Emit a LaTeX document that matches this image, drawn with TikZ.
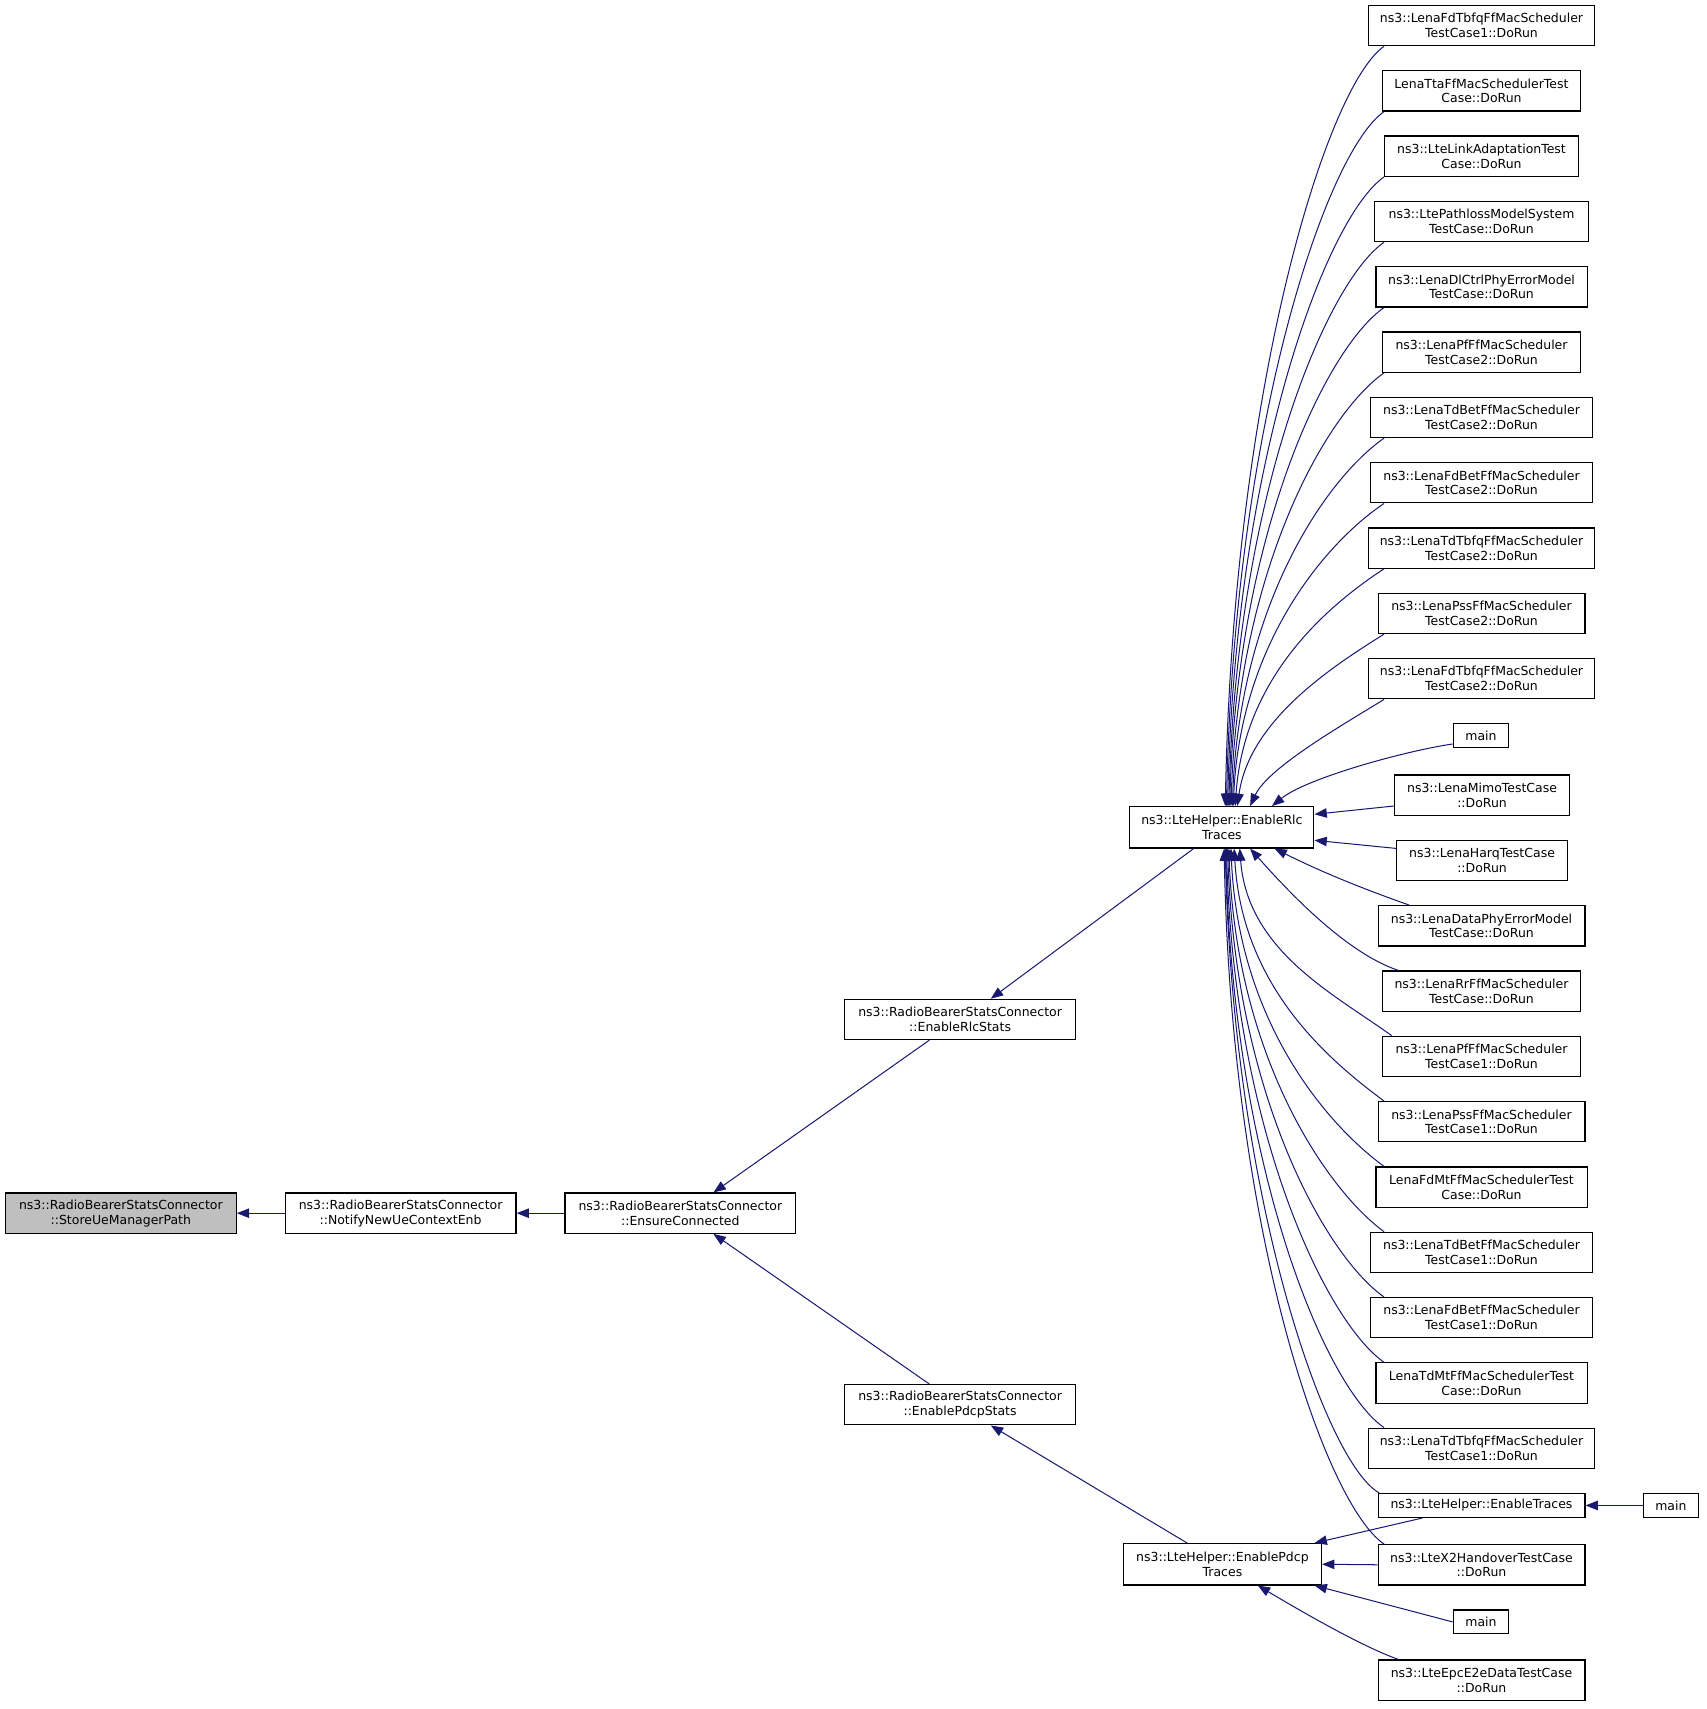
\documentclass[tikz,border=0pt]{standalone}
\usepackage{fontspec}
\setmainfont{DejaVu Sans}
\usetikzlibrary{arrows.meta}
\definecolor{edgeblue}{HTML}{191970}
\definecolor{rootgray}{HTML}{BFBFBF}

\begin{document}
\begin{tikzpicture}[
    x=0.75pt, y=-0.75pt,
    func/.style={rectangle, draw=black, fill=white, line width=0.8pt, align=center,
        font=\fontsize{8.6}{10.2}\selectfont, inner sep=1pt,
        minimum width=#1*0.75pt, minimum height=27.75pt},
    func1/.style={func=#1, minimum height=16.5pt},
    root/.style={func=#1, fill=rootgray},
    call/.style={draw=edgeblue, line width=0.7pt, >={Triangle[length=8.5pt,width=6.5pt]}, <-},
]
\useasboundingbox (0,0) rectangle (1568,1570);

% call chain on the left
\node[root=212] (store) at (111,1114.5) {ns3::RadioBearerStatsConnector\\::StoreUeManagerPath};
\node[func=212] (notify) at (368,1114.5) {ns3::RadioBearerStatsConnector\\::NotifyNewUeContextEnb};
\node[func=212] (ensure) at (625,1114.5) {ns3::RadioBearerStatsConnector\\::EnsureConnected};
\node[func=212] (rlcstats) at (882,936.5) {ns3::RadioBearerStatsConnector\\::EnableRlcStats};
\node[func=212] (pdcpstats) at (882,1290.5) {ns3::RadioBearerStatsConnector\\::EnablePdcpStats};
\node[func=169, minimum height=28.5pt] (rlct) at (1122.5,760) {ns3::LteHelper::EnableRlc\\Traces};
\node[func=182, minimum height=28.5pt] (pdcpt) at (1123,1437) {ns3::LteHelper::EnablePdcp\\Traces};

% callers of EnableRlcTraces
\node[func=208] (n1) at (1361,23.5) {ns3::LenaFdTbfqFfMacScheduler\\TestCase1::DoRun};
\node[func=182] (n2) at (1361,83.5) {LenaTtaFfMacSchedulerTest\\Case::DoRun};
\node[func=178] (n3) at (1361,143.5) {ns3::LteLinkAdaptationTest\\Case::DoRun};
\node[func=196] (n4) at (1361,203.5) {ns3::LtePathlossModelSystem\\TestCase::DoRun};
\node[func=194] (n5) at (1361,263.5) {ns3::LenaDlCtrlPhyErrorModel\\TestCase::DoRun};
\node[func=182] (n6) at (1361,323.5) {ns3::LenaPfFfMacScheduler\\TestCase2::DoRun};
\node[func=204] (n7) at (1361,383.5) {ns3::LenaTdBetFfMacScheduler\\TestCase2::DoRun};
\node[func=204] (n8) at (1361,443.5) {ns3::LenaFdBetFfMacScheduler\\TestCase2::DoRun};
\node[func=208] (n9) at (1361,503.5) {ns3::LenaTdTbfqFfMacScheduler\\TestCase2::DoRun};
\node[func=190] (n10) at (1361,563.5) {ns3::LenaPssFfMacScheduler\\TestCase2::DoRun};
\node[func=208] (n11) at (1361,623.5) {ns3::LenaFdTbfqFfMacScheduler\\TestCase2::DoRun};
\node[func1=51] (n12) at (1360.5,676) {main};
\node[func=161] (n13) at (1361.5,730.5) {ns3::LenaMimoTestCase\\::DoRun};
\node[func=157] (n14) at (1361.5,790.5) {ns3::LenaHarqTestCase\\::DoRun};
\node[func=190] (n15) at (1361,850.5) {ns3::LenaDataPhyErrorModel\\TestCase::DoRun};
\node[func=182] (n16) at (1361,910.5) {ns3::LenaRrFfMacScheduler\\TestCase::DoRun};
\node[func=182] (n17) at (1361,970.5) {ns3::LenaPfFfMacScheduler\\TestCase1::DoRun};
\node[func=190] (n18) at (1361,1030.5) {ns3::LenaPssFfMacScheduler\\TestCase1::DoRun};
\node[func=194] (n19) at (1361,1090.5) {LenaFdMtFfMacSchedulerTest\\Case::DoRun};
\node[func=204] (n20) at (1361,1150.5) {ns3::LenaTdBetFfMacScheduler\\TestCase1::DoRun};
\node[func=204] (n21) at (1361,1210.5) {ns3::LenaFdBetFfMacScheduler\\TestCase1::DoRun};
\node[func=194] (n22) at (1361,1270.5) {LenaTdMtFfMacSchedulerTest\\Case::DoRun};
\node[func=208] (n23) at (1361,1330.5) {ns3::LenaTdTbfqFfMacScheduler\\TestCase1::DoRun};
\node[func1=190] (entraces) at (1361,1383) {ns3::LteHelper::EnableTraces};
\node[func1=50] (mainb) at (1535,1383) {main};
\node[func=190] (x2) at (1361,1437.5) {ns3::LteX2HandoverTestCase\\::DoRun};
\node[func1=51] (mainc) at (1360.5,1490) {main};
\node[func=190] (epc) at (1361,1543.5) {ns3::LteEpcE2eDataTestCase\\::DoRun};

% left chain edges
\draw[call] (store.east) -- (notify.west);
\draw[call] (notify.east) -- (ensure.west);
\draw[call] (ensure.32) -- (rlcstats.214);
\draw[call] (ensure.328) -- (pdcpstats.146);
\draw[call] (rlcstats.34) -- (rlct.217);
\draw[call] (pdcpstats.326) -- (pdcpt.149);

% upper fan into EnableRlcTraces
\draw[call] (rlct.81) .. controls (1133,357) and (1218,80) .. (n1.192);
\draw[call] (rlct.78) .. controls (1134,390) and (1218,140) .. (n2.192);
\draw[call] (rlct.75) .. controls (1135,423) and (1218,200) .. (n3.192);
\draw[call] (rlct.72) .. controls (1136,456) and (1218,260) .. (n4.192);
\draw[call] (rlct.70) .. controls (1137,489) and (1218,320) .. (n5.192);
\draw[call] (rlct.67) .. controls (1138,522) and (1218,380) .. (n6.192);
\draw[call] (rlct.64) .. controls (1139,555) and (1218,440) .. (n7.192);
\draw[call] (rlct.62) .. controls (1140,588) and (1220,497) .. (n8.192);
\draw[call] (rlct.58) .. controls (1143,620) and (1222,555) .. (n9.192);
\draw[call] (rlct.54) .. controls (1148,660) and (1228,610) .. (n10.192);
\draw[call] (rlct.37) .. controls (1165,705) and (1235,665) .. (n11.192);
\draw[call] (rlct.23) .. controls (1200,715) and (1290,690) .. (n12.196);
\draw[call] (rlct.8) -- (n13.187);
\draw[call] (rlct.352) -- (n14.172);

% lower fan into EnableRlcTraces
\draw[call] (rlct.338) .. controls (1210,799) and (1245,814) .. (n15.164);
\draw[call] (rlct.323) .. controls (1180,815) and (1235,875) .. (n16.166);
\draw[call] (rlct.310) .. controls (1146,874) and (1227,914) .. (n17.167);
\draw[call] (rlct.300) .. controls (1141,907) and (1221,974) .. (n18.168);
\draw[call] (rlct.293) .. controls (1138,940) and (1220,1034) .. (n19.168);
\draw[call] (rlct.288) .. controls (1136,973) and (1220,1094) .. (n20.168);
\draw[call] (rlct.285) .. controls (1135,1006) and (1218,1154) .. (n21.168);
\draw[call] (rlct.282) .. controls (1134,1039) and (1218,1214) .. (n22.168);
\draw[call] (rlct.280) .. controls (1133,1072) and (1217,1274) .. (n23.168);
\draw[call] (rlct.279) .. controls (1133,1106) and (1219,1345) .. (entraces.173);
\draw[call] (rlct.276) .. controls (1131,1131) and (1217,1381) .. (x2.168);

% callers of EnablePdcpTraces
\draw[call] (entraces.east) -- (mainb.west);
\draw[call] (pdcpt.13) -- (entraces.192);
\draw[call] (pdcpt.east) -- (x2.west);
\draw[call] (pdcpt.347) -- (mainc.west);
\draw[call] (pdcpt.329) .. controls (1195,1480) and (1250,1512) .. (epc.166);
\end{tikzpicture}
\end{document}
